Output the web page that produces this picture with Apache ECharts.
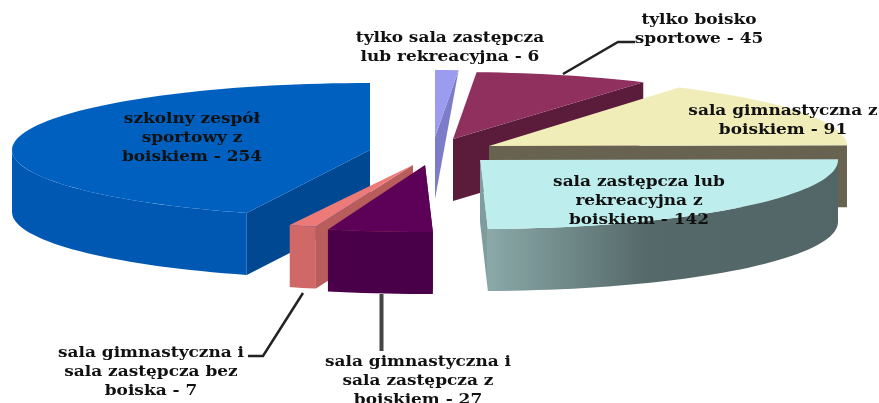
<!DOCTYPE html>
<html>
<head>
<meta charset="utf-8">
<script src="https://cdn.jsdelivr.net/npm/echarts@6/dist/echarts.min.js"></script>
<style>
  html, body { margin: 0; padding: 0; background: #fff; }
  #chart { width: 879px; height: 403px; overflow: hidden; filter: blur(0.4px); }
</style>
</head>
<body>
<div id="chart"></div>
<script>
// clockwise from 12 o'clock
const categories = [
  'tylko sala zastępcza\nlub rekreacyjna - 6',
  'tylko boisko\nsportowe - 45',
  'sala gimnastyczna z\nboiskiem - 91',
  'sala zastępcza lub\nrekreacyjna z\nboiskiem - 142',
  'sala gimnastyczna i\nsala zastępcza z\nboiskiem - 27',
  'sala gimnastyczna i\nsala zastępcza bez\nboiska - 7',
  'szkolny zespół\nsportowy z\nboiskiem - 254'
]
const values = [6, 45, 91, 142, 27, 7, 254]

// exploded slices: each one has its own apex and rim size
const apexes = [[435, 137], [453, 139], [489, 146], [480, 160], [425, 165], [413, 165], [370, 150]]
const radiusX = 358
const radiiY = [67, 67, 69, 69, 67, 64, 67]
const wallHeight = 62
const labelCenters = [[450, 48], [699, 30], [783, 121], [639, 201], [418, 381], [151, 372], [192, 138]]
const paintOrder = [6, 0, 1, 2, 3, 5, 4]

const topColors = ['#9b9bef', '#8f305f', '#f0edb9', '#bdeeed', '#5c0058', '#eb7a78', '#0060c0']
const sideColors = ['#7c7cc8', '#5b1c3c', '#676350', '#56696a', '#4a0048', '#cf6866', '#0058b2']
const edgeColors = ['#7c7cc8', '#5b1c3c', '#676350', '#7f9d9d', '#4a0048', '#b95d5c', '#004891']

const total = values.reduce((a, b) => a + b, 0)
const angles = []
values.reduce((sum, v) => {
  angles.push([sum / total * 360, (sum + v) / total * 360])
  return sum + v
}, 0)

const renderSlice = (params, api) => {
  const i = api.value(0)
  const [cx, cy] = apexes[i]
  const [start, end] = angles[i]
  const rim = (deg, dy = 0) => {
    const r = deg * Math.PI / 180
    return [cx + radiusX * Math.sin(r), cy - radiiY[i] * Math.cos(r) + dy]
  }
  const arc = (from, to, dy = 0) => {
    const pts = []
    const n = Math.max(2, Math.ceil((to - from) / 2))
    for (let k = 0; k <= n; k++) pts.push(rim(from + (to - from) * k / n, dy))
    return pts
  }
  const poly = (points, fill) => ({ type: 'polygon', shape: { points }, style: { fill } })

  const children = []
  // radial wall facing the viewer
  const edge = end <= 180 ? end : start
  if (i === 0) {
    children.push(poly([[cx, cy], rim(edge), [cx, cy + wallHeight]], edgeColors[i]))
  } else {
    children.push(poly([[cx, cy], rim(edge), rim(edge, wallHeight), [cx, cy + wallHeight]], edgeColors[i]))
  }
  // curved outer wall, front half only
  const from = Math.max(start, 90)
  const to = Math.min(end, 270)
  if (to > from) {
    let fill = sideColors[i]
    if (i === 3) {
      fill = new echarts.graphic.LinearGradient(0, 0, 1, 0, [
        { offset: 0, color: '#8aa9a8' },
        { offset: 0.45, color: '#56696a' },
        { offset: 1, color: '#536667' }
      ])
    }
    children.push(poly(arc(from, to).concat(arc(from, to, wallHeight).reverse()), fill))
  }
  children.push(poly([[cx, cy]].concat(arc(start, end)), topColors[i]))
  return { type: 'group', children }
}

const labelElements = categories.map((text, i) => ({
  type: 'text',
  x: labelCenters[i][0],
  y: labelCenters[i][1],
  scaleX: 1.21,
  z: 10,
  style: {
    text,
    x: 0,
    y: 0,
    align: 'center',
    verticalAlign: 'middle',
    fontFamily: 'DejaVu Serif',
    fontWeight: 'bold',
    fontSize: 14,
    lineHeight: 19,
    fill: '#111'
  }
}))

const leader = (points, lineWidth, stroke) => ({
  type: 'polyline',
  z: 9,
  shape: { points },
  style: { stroke, lineWidth, fill: null }
})

const chart = echarts.init(document.getElementById('chart'))
chart.setOption({
  animation: false,
  backgroundColor: '#fff',
  graphic: { elements: [
    leader([[563, 74], [618, 42], [635, 42]], 2.5, '#222'),
    leader([[381.5, 294], [381.5, 351]], 4, '#444'),
    leader([[248, 356], [263, 356], [303, 293]], 2.5, '#222')
  ].concat(labelElements) },
  series: [{
    type: 'custom',
    coordinateSystem: 'none',
    renderItem: renderSlice,
    silent: true,
    data: paintOrder.map(i => [i, values[i]])
  }]
})
</script>
</body>
</html>
